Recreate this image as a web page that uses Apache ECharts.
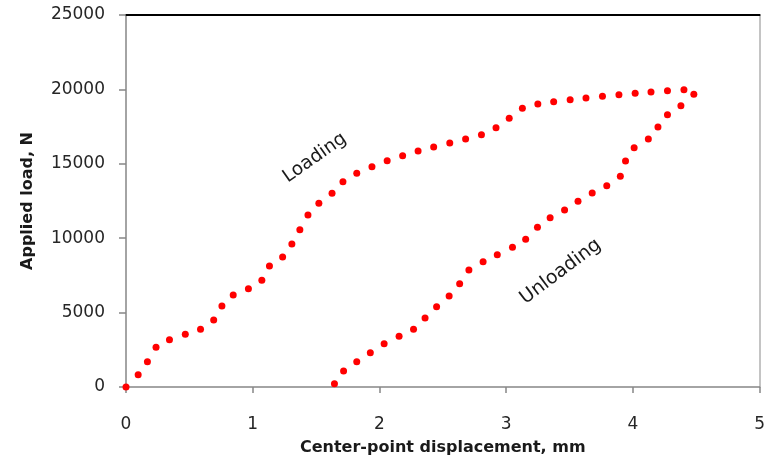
<!DOCTYPE html>
<html>
<head>
<meta charset="utf-8">
<script src="https://cdn.jsdelivr.net/npm/echarts@6/dist/echarts.min.js"></script>
<style>
html,body{margin:0;padding:0;background:#fff;}
#chart{width:768px;height:461px;}
</style>
</head>
<body>
<div id="chart"></div>
<script>
// Loading branch (displacement mm, load N)
const loadX = [0, 0.096, 0.169, 0.237, 0.343, 0.468, 0.588, 0.692, 0.757, 0.846, 0.966, 1.072, 1.132, 1.236, 1.309, 1.372, 1.436, 1.522, 1.626, 1.712, 1.821, 1.941, 2.061, 2.183, 2.305, 2.428, 2.555, 2.680, 2.805, 2.920, 3.024, 3.128, 3.250, 3.375, 3.505, 3.630, 3.760, 3.890, 4.018, 4.143, 4.273, 4.403];
const loadY = [0, 830, 1700, 2670, 3180, 3540, 3880, 4500, 5440, 6180, 6610, 7170, 8130, 8740, 9610, 10570, 11560, 12350, 13020, 13800, 14360, 14800, 15210, 15540, 15860, 16130, 16400, 16670, 16960, 17430, 18060, 18730, 19020, 19170, 19310, 19420, 19540, 19640, 19740, 19830, 19910, 19980];
// Unloading branch
const unloadX = [4.481, 4.379, 4.273, 4.198, 4.122, 4.010, 3.942, 3.901, 3.794, 3.679, 3.567, 3.461, 3.347, 3.247, 3.154, 3.050, 2.930, 2.818, 2.706, 2.633, 2.550, 2.451, 2.360, 2.269, 2.155, 2.037, 1.928, 1.821, 1.717, 1.645];
const unloadY = [19670, 18900, 18300, 17470, 16670, 16080, 15190, 14160, 13530, 13040, 12480, 11900, 11380, 10730, 9930, 9390, 8890, 8420, 7860, 6940, 6120, 5400, 4640, 3880, 3410, 2910, 2300, 1700, 1080, 220];

const xTitle = 'Center-point displacement, mm';
const yTitle = 'Applied load, N';
const labels = ['Loading', 'Unloading'];

const chart = echarts.init(document.getElementById('chart'), null, {renderer: 'canvas'});
const font = 'DejaVu Sans';
const gridL = 126, gridR = 2, gridT = 15, gridB = 74;

const option = {
  animation: false,
  backgroundColor: '#ffffff',
  grid: {left: gridL, right: gridR, top: gridT, bottom: gridB, containLabel: false},
  xAxis: [{
    type: 'value', min: 0, max: 5, interval: 1,
    name: xTitle, nameLocation: 'middle', nameGap: 53,
    nameTextStyle: {fontFamily: font, fontWeight: 'bold', fontSize: 16, color: '#1a1a1a'},
    axisLine: {show: true, onZero: false, lineStyle: {color: '#868686', width: 1.5}},
    axisTick: {show: true, length: 6, lineStyle: {color: '#868686', width: 1.5}},
    axisLabel: {margin: 29, fontFamily: font, fontSize: 17, color: '#262626'},
    splitLine: {show: false}
  }, {
    type: 'value', min: 0, max: 5, position: 'top',
    axisLine: {show: true, onZero: false, lineStyle: {color: '#000000', width: 2}},
    axisTick: {show: false}, axisLabel: {show: false}, splitLine: {show: false}
  }],
  yAxis: [{
    type: 'value', min: 0, max: 25000, interval: 5000,
    name: yTitle, nameLocation: 'middle', nameGap: 90, nameRotate: 90,
    nameTextStyle: {fontFamily: font, fontWeight: 'bold', fontSize: 16, color: '#1a1a1a'},
    axisLine: {show: true, onZero: false, lineStyle: {color: '#868686', width: 1.5}},
    axisTick: {show: true, length: 7, lineStyle: {color: '#868686', width: 1.5}},
    axisLabel: {margin: 21, fontFamily: font, fontSize: 17, color: '#262626', formatter: v => String(v)},
    splitLine: {show: false}
  }, {
    type: 'value', min: 0, max: 25000, position: 'right',
    axisLine: {show: true, onZero: false, lineStyle: {color: '#b0b0b0', width: 1.5}},
    axisTick: {show: false}, axisLabel: {show: false}, splitLine: {show: false}
  }],
  series: [{
    name: labels[0], type: 'scatter', clip: false,
    symbol: 'circle', symbolSize: 7,
    itemStyle: {color: '#ff0000', opacity: 1},
    data: loadX.map((x, i) => [x, loadY[i]])
  }, {
    name: labels[1], type: 'scatter', clip: false,
    symbol: 'circle', symbolSize: 7,
    itemStyle: {color: '#ff0000', opacity: 1},
    data: unloadX.map((x, i) => [x, unloadY[i]])
  }]
};
chart.setOption(option);

// Rotated annotations anchored in data coordinates
function placeLabels() {
  const p1 = chart.convertToPixel({gridIndex: 0}, [1.49, 15400]);
  const p2 = chart.convertToPixel({gridIndex: 0}, [3.43, 7750]);
  chart.setOption({
    graphic: [{
      type: 'text', x: p1[0], y: p1[1], rotation: 35 * Math.PI / 180,
      style: {text: labels[0], fontFamily: font, fontSize: 18.5, fill: '#1a1a1a', align: 'center', verticalAlign: 'middle'}
    }, {
      type: 'text', x: p2[0], y: p2[1], rotation: 37 * Math.PI / 180,
      style: {text: labels[1], fontFamily: font, fontSize: 19, fill: '#1a1a1a', align: 'center', verticalAlign: 'middle'}
    }]
  });
}
placeLabels();
</script>
</body>
</html>
